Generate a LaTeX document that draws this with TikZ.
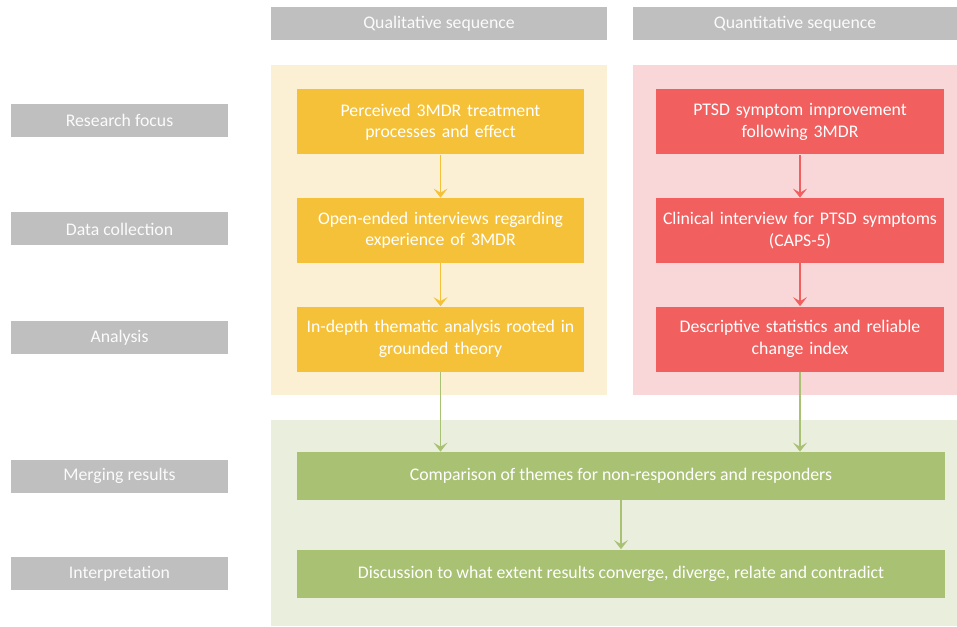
\documentclass[tikz,border=0pt]{standalone}
\usepackage{fontspec}
\setmainfont{Carlito}
\usetikzlibrary{positioning, arrows.meta, backgrounds}
\definecolor{rowgray}{HTML}{BFBFBF}
\definecolor{qualbox}{HTML}{F4C138}
\definecolor{qualband}{HTML}{FCF0D4}
\definecolor{quanbox}{HTML}{F15F5F}
\definecolor{quanband}{HTML}{F9D7D8}
\definecolor{mixbox}{HTML}{A9C173}
\definecolor{mixband}{HTML}{EAEEDD}
\tikzset{
  every node/.style = {font=\fontsize{10.1}{12.2}\selectfont, text=white},
  mmbase/.style  = {align=center, inner sep=3pt, minimum height=13mm},
  mmrow/.style   = {mmbase, fill=rowgray, text=white!94!rowgray, minimum width=43.4mm, minimum height=6.6mm},
  mmhead/.style  = {mmbase, fill=rowgray, text=white!94!rowgray, minimum height=6.6mm},
  mmqual/.style  = {mmbase, fill=qualbox, inner xsep=0.5pt, minimum width=57.4mm, text width=56mm},
  mmquan/.style  = {mmbase, fill=quanbox, inner xsep=0.5pt, minimum width=57.6mm, text width=56mm},
  mmmix/.style   = {mmbase, fill=mixbox, minimum width=129.6mm, minimum height=9.6mm},
  mmgo/.style    = {-{Stealth[length=1.8mm,width=2.8mm,inset=0.8mm]}, line width=0.7pt},
}

\begin{document}
\begin{tikzpicture}
\useasboundingbox (0,0) rectangle (19.14,12.52);

% bands behind each sequence
\fill[qualband] (5.42,4.62) rectangle (12.14,11.22);
\fill[quanband] (12.66,4.62) rectangle (19.14,11.22);
\fill[mixband]  (5.42,0) rectangle (19.14,4.12);

% column heads
\node[mmhead, minimum width=67.2mm] (HQl) at (8.78,12.04) {Qualitative sequence};
\node[mmhead, minimum width=64.8mm] (HQn) at (15.90,12.04) {Quantitative sequence};

% row labels
\foreach \n/\y/\txt in {RF/10.11/{Research focus}, DC/7.94/{Data collection},
  AN/5.77/{Analysis}, MR/3.00/{Merging results}, IN/1.05/{Interpretation}}{
  \node[mmrow] (\n) at (2.39,\y) {\txt};
}

% qualitative strand
\node[mmqual] (Q1) at (8.81,10.08) {Perceived 3MDR treatment\\processes and effect};
\node[mmqual] (Q2) at (8.81,7.91)  {Open-ended interviews regarding\\experience of 3MDR};
\node[mmqual] (Q3) at (8.81,5.74)  {In-depth thematic analysis rooted in\\grounded theory};

% quantitative strand
\node[mmquan] (P1) at (16.00,10.08) {PTSD symptom improvement\\following 3MDR};
\node[mmquan] (P2) at (16.00,7.91)  {Clinical interview for PTSD symptoms\\(CAPS-5)};
\node[mmquan] (P3) at (16.00,5.74)  {Descriptive statistics and reliable\\change index};

% merged
\node[mmmix] (M1) at (12.42,3.00) {Comparison of themes for non-responders and responders};
\node[mmmix] (M2) at (12.42,1.05) {Discussion to what extent results converge, diverge, relate and contradict};

\foreach \a/\b in {Q1/Q2,Q2/Q3}{\draw[mmgo, draw=qualbox] (\a) -- (\b);}
\foreach \a/\b in {P1/P2,P2/P3}{\draw[mmgo, draw=quanbox] (\a) -- (\b);}
\draw[mmgo, draw=mixbox] (Q3.south) -- (Q3.south |- M1.north);
\draw[mmgo, draw=mixbox] (P3.south) -- (P3.south |- M1.north);
\draw[mmgo, draw=mixbox] (M1) -- (M2);
\end{tikzpicture}
\end{document}
